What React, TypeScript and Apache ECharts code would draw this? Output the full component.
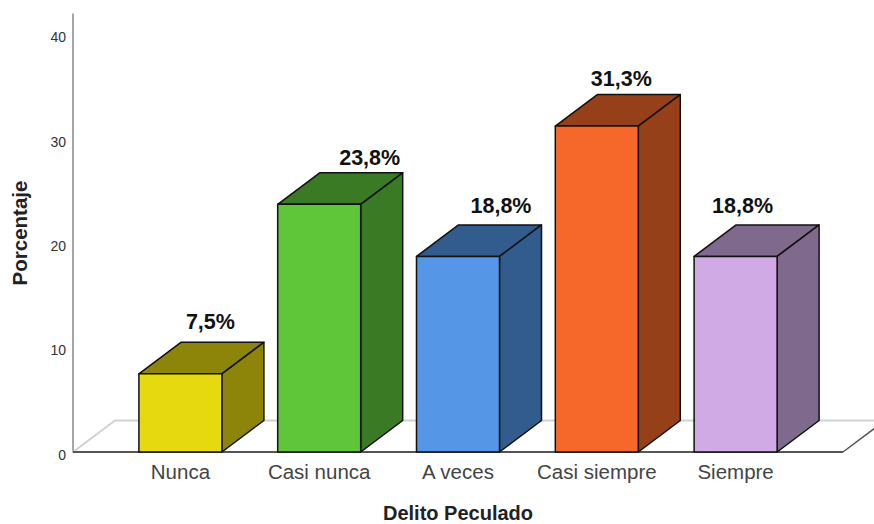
import React, { useEffect, useRef } from "react";
import * as echarts from "echarts";

const categories = ["Nunca", "Casi nunca", "A veces", "Casi siempre", "Siempre"];
const percentages = [7.5, 23.75, 18.75, 31.25, 18.75];
const percentLabels = ["7,5%", "23,8%", "18,8%", "31,3%", "18,8%"];
const yTicks = [0, 10, 20, 30, 40];
const frontColors = ["#E6D90F", "#5EC638", "#5596E6", "#F5682A", "#D0AAE5"];
const shadeColors = ["#8C850A", "#3A7A24", "#335C8E", "#964019", "#7F698C"];
const labelShiftX = [30, 50.5, 43, 24.5, 7];
const labelGapY = [20, 15, 19, 16, 19];

const DEPTH_X = 42;
const DEPTH_Y = 31.5;
const AXIS_OUTSET = 38;
const FONT = '"Liberation Sans", Arial, sans-serif';

export default function App() {
  const ref = useRef<HTMLDivElement>(null);
  useEffect(() => {
    document.body.style.margin = "0";
    const chart = echarts.init(ref.current!, null, { renderer: "svg" });
    chart.setOption({
      animation: false,
      backgroundColor: "#ffffff",
      grid: { left: 111, width: 694, top: 14, height: 438, outerBoundsMode: "none", containLabel: false },
      xAxis: {
        type: "category",
        data: categories,
        axisLine: { show: false },
        axisTick: { show: false },
        axisLabel: { color: "#444444", fontSize: 20.5, fontFamily: FONT, margin: 9, interval: 0 },
        name: "Delito Peculado",
        nameLocation: "middle",
        nameGap: 51,
        nameTextStyle: { color: "#222222", fontSize: 20, fontWeight: "bold", fontFamily: FONT },
      },
      yAxis: {
        type: "value",
        min: 0,
        max: 42,
        offset: AXIS_OUTSET,
        axisLine: { show: true, lineStyle: { color: "#888888", width: 1.5 } },
        axisTick: { show: false },
        splitLine: { show: false },
        axisLabel: {
          customValues: yTicks,
          color: "#333333",
          fontSize: 14,
          fontFamily: FONT,
          margin: 7,
          verticalAlign: "top",
          lineHeight: 5,
        },
        name: "Porcentaje",
        nameLocation: "middle",
        nameGap: 43,
        nameRotate: 90,
        nameTextStyle: { color: "#222222", fontSize: 20.5, fontWeight: "bold", fontFamily: FONT },
      },
      series: [
        {
          type: "custom",
          coordinateSystem: "cartesian2d",
          silent: true,
          clip: false,
          z: 1,
          data: [[0, 0]],
          renderItem: (params: any, api: any) => {
            const cs = params.coordSys;
            const left = cs.x - AXIS_OUTSET;
            const right = cs.x + cs.width + AXIS_OUTSET;
            const base = api.coord([0, 0])[1];
            const back = base - DEPTH_Y;
            return {
              type: "group",
              children: [
                { type: "polyline", shape: { points: [[left, base], [left + DEPTH_X, back], [right + DEPTH_X, back]] }, style: { fill: "none", stroke: "#D2D2D2", lineWidth: 2 } },
                { type: "line", shape: { x1: right, y1: base, x2: right + DEPTH_X, y2: back }, style: { stroke: "#555555", lineWidth: 1.5 } },
                { type: "line", shape: { x1: left, y1: base, x2: right, y2: base }, style: { stroke: "#555555", lineWidth: 2 } },
              ],
            };
          },
        },
        {
          type: "custom",
          coordinateSystem: "cartesian2d",
          clip: false,
          z: 2,
          encode: { x: 0, y: 1 },
          data: percentages.map((v, i) => [i, v]),
          renderItem: (params: any, api: any) => {
            const i = params.dataIndex;
            const [cx, top] = api.coord([api.value(0), api.value(1)]);
            const base = api.coord([api.value(0), 0])[1];
            const half = (api.size([1, 0])[0] * 0.598) / 2;
            const l = cx - half;
            const r = cx + half;
            const line = { stroke: "#111111", lineWidth: 1.5, lineJoin: "round" };
            return {
              type: "group",
              children: [
                { type: "polygon", shape: { points: [[l, top], [l + DEPTH_X, top - DEPTH_Y], [r + DEPTH_X, top - DEPTH_Y], [r, top]] }, style: { fill: shadeColors[i], ...line } },
                { type: "polygon", shape: { points: [[r, top], [r + DEPTH_X, top - DEPTH_Y], [r + DEPTH_X, base - DEPTH_Y], [r, base]] }, style: { fill: shadeColors[i], ...line } },
                { type: "rect", shape: { x: l, y: top, width: r - l, height: base - top }, style: { fill: frontColors[i], ...line } },
                {
                  type: "text",
                  style: {
                    text: percentLabels[i],
                    x: cx + labelShiftX[i],
                    y: top - DEPTH_Y - labelGapY[i],
                    align: "center",
                    verticalAlign: "middle",
                    fill: "#111111",
                    font: `bold 21.5px ${FONT}`,
                  },
                },
              ],
            };
          },
        },
      ],
    });
    return () => chart.dispose();
  }, []);
  return <div ref={ref} style={{ position: "absolute", left: 0, top: 0, width: 874, height: 524 }} />;
}
